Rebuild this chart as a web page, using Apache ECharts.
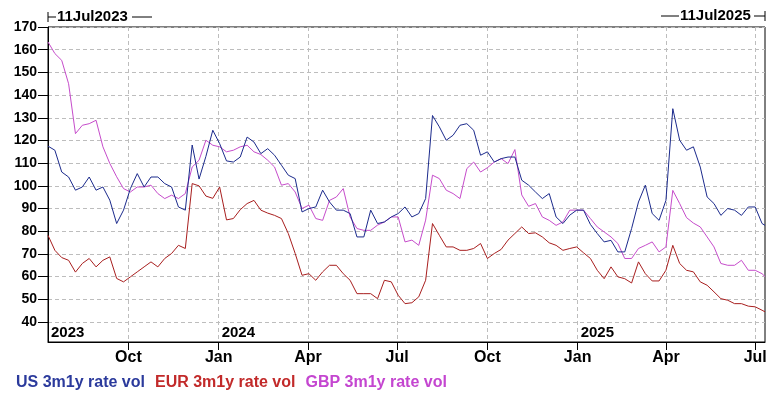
<!DOCTYPE html>
<html>
<head>
<meta charset="utf-8">
<script src="https://cdn.jsdelivr.net/npm/echarts@6/dist/echarts.min.js"></script>
<style>
  html, body { margin: 0; padding: 0; background: #ffffff; }
  #chart { width: 776px; height: 393px; }
</style>
</head>
<body>
<div id="chart"></div>
<script>
// ---- Data (weekly readings) ----
const dates = ['2023-07-11','2023-07-18','2023-07-25','2023-08-01','2023-08-08','2023-08-15','2023-08-22','2023-08-29','2023-09-05','2023-09-12','2023-09-19','2023-09-26','2023-10-03','2023-10-10','2023-10-17','2023-10-24','2023-10-31','2023-11-07','2023-11-14','2023-11-21','2023-11-28','2023-12-05','2023-12-12','2023-12-19','2023-12-26','2024-01-02','2024-01-09','2024-01-16','2024-01-23','2024-01-30','2024-02-06','2024-02-13','2024-02-20','2024-02-27','2024-03-05','2024-03-12','2024-03-19','2024-03-26','2024-04-02','2024-04-09','2024-04-16','2024-04-23','2024-04-30','2024-05-07','2024-05-14','2024-05-21','2024-05-28','2024-06-04','2024-06-11','2024-06-18','2024-06-25','2024-07-02','2024-07-09','2024-07-16','2024-07-23','2024-07-30','2024-08-06','2024-08-13','2024-08-20','2024-08-27','2024-09-03','2024-09-10','2024-09-17','2024-09-24','2024-10-01','2024-10-08','2024-10-15','2024-10-22','2024-10-29','2024-11-05','2024-11-12','2024-11-19','2024-11-26','2024-12-03','2024-12-10','2024-12-17','2024-12-24','2024-12-31','2025-01-07','2025-01-14','2025-01-21','2025-01-28','2025-02-04','2025-02-11','2025-02-18','2025-02-25','2025-03-04','2025-03-11','2025-03-18','2025-03-25','2025-04-01','2025-04-08','2025-04-15','2025-04-22','2025-04-29','2025-05-06','2025-05-13','2025-05-20','2025-05-27','2025-06-03','2025-06-10','2025-06-17','2025-06-24','2025-07-01','2025-07-08','2025-07-11'];

const usVol = [117.5,115.7,106.1,103.9,98.1,99.5,103.9,98.1,99.5,93.7,
  83.4,89.3,98.8,105.4,99.5,103.9,103.9,101,99.5,90.7,
  89.3,118,103,113,124.5,118.6,111,110.5,112.7,121.5,
  119.3,114.2,116.4,113.5,109.1,104.7,103.2,88.5,90,90.7,
  98.1,92.9,89.3,89.3,87.8,77.5,77.5,89.3,83.4,84.1,
  86.3,87.8,90.7,86.3,87.8,94.4,131,126,120.1,122.3,
  126.7,127.4,124.5,113.5,115,110.5,112,112.7,112.7,102.5,
  100.3,97.3,94.4,96.6,86.3,83.4,87.1,89.3,89.3,83,
  79,75.3,76,70.9,70.9,81.2,92.9,100.3,87.8,84.8,
  93.6,134,120.1,115.7,117.2,108.3,95.1,92.2,87,90,
  89.3,87,90.7,90.7,83.4,82.6];

const eurVol = [78.2,71.6,68.4,67.2,62,65.8,68,64.3,67.2,68.7,
  59.2,57.7,59.9,62.1,64.3,66.5,64.3,68,70.2,73.8,
  72.4,101,100,95.5,94.5,99.5,85,85.6,89.5,92.2,
  93.6,89.3,88,87,85.6,79,70.2,60.6,61.3,58.4,
  62.1,65,65,61.3,58.4,52.5,52.5,52.5,50.3,58.4,
  57.7,51.8,48.1,48.5,51.1,58.4,83.4,78.2,73.1,73.1,
  71.6,71.6,72.4,74.6,68,70.2,72,76.1,79,81.9,
  79,79.3,77.5,74.9,73.8,71.6,72.4,73.1,70.5,68,
  62.8,59.1,64.3,59.9,59.1,57.2,66.5,61.3,58.1,58.1,
  62.8,73.8,65.8,62.8,62.1,57.7,56.2,53.3,50.3,49.6,
  48.1,48.1,47,46.7,45.2,44.5];

const gbpVol = [163.4,158.3,155.3,145,123,126.7,127.4,128.9,117.2,109.9,
  104,98.8,97.3,99.5,99.5,100.3,96.6,94.4,95.9,94.4,
  96.6,108.3,111.3,120.1,117.9,117.2,115,115.7,117.2,117.9,
  115,113.8,111.3,108.3,100.3,101,97.3,90,91.5,85.6,
  84.8,93.6,95.1,98.8,86.3,81.2,80.4,80.4,82.7,84.1,
  86.3,86.3,75.3,76.1,73.8,84.9,104.7,103.2,98.1,96.6,
  94.4,107.6,110.5,106.1,108,110.5,112,109.8,116,96,
  91,92.2,86.3,84.8,82.6,84.1,89.3,89.3,89.3,85.6,
  81.9,79.7,77.5,74.6,68,68,72.4,73.8,75.3,70.9,
  73.1,98,92.2,86,83.6,81.9,77.5,73.1,65.8,65,
  65,67.2,62.8,62.8,61.3,60];

const seriesNames = ['US 3m1y rate vol', 'EUR 3m1y rate vol', 'GBP 3m1y rate vol'];
const quarterTicks = ['2023-10-01','2024-01-01','2024-04-01','2024-07-01','2024-10-01','2025-01-01','2025-04-01','2025-07-01'];
const quarterLabels = ['Oct','Jan','Apr','Jul','Oct','Jan','Apr','Jul'];
const yearTicks = ['2023-07-11','2024-01-01','2025-01-01'];
const yearLabels = ['2023','2024','2025'];
const yTicks = [40,50,60,70,80,90,100,110,120,130,140,150,160,170];
const startLabel = '11Jul2023';
const endLabel = '11Jul2025';

// ---- helpers ----
function ts(s) { const p = s.split('-').map(Number); return Date.UTC(p[0], p[1] - 1, p[2]); }
const xMin = ts(dates[0]);
const xMax = ts(dates[dates.length - 1]);
const qTs = quarterTicks.map(ts);
const yTs = yearTicks.map(ts);
function pairs(vals) { return dates.map((d, i) => [ts(d), vals[i]]); }

const FONT = "'Liberation Sans', Arial, sans-serif";
const colors = ['#1b2a8c', '#a81e1e', '#c64ccb'];
const legendColors = ['#2b3a9c', '#c22a2a', '#c446d0'];

const chart = echarts.init(document.getElementById('chart'), null, { renderer: 'canvas' });

const option = {
  animation: false,
  backgroundColor: '#ffffff',
  grid: {
    left: 48, right: 11, top: 27, bottom: 51,
    show: true, borderColor: '#000', borderWidth: 1, backgroundColor: '#fff'
  },
  legend: {
    left: 6, top: 370, icon: 'none', itemWidth: 0, itemHeight: 14, itemGap: 5,
    selectedMode: false,
    textStyle: { fontFamily: FONT, fontSize: 16, fontWeight: 'bold' },
    data: seriesNames.map((n, i) => ({ name: n, textStyle: { color: legendColors[i] } }))
  },
  xAxis: [{
    type: 'value', min: xMin, max: xMax,
    axisLine: { show: true, lineStyle: { color: '#000', width: 1 } },
    axisTick: { show: true, length: 8, lineStyle: { color: '#000' }, customValues: qTs },
    axisLabel: {
      customValues: qTs, margin: 8, color: '#000',
      fontFamily: FONT, fontSize: 16, fontWeight: 'bold',
      formatter: function (v) { const i = qTs.indexOf(v); return i >= 0 ? quarterLabels[i] : ''; }
    },
    splitLine: { show: true, lineStyle: { color: '#bdbdbd', type: [4, 3], width: 1 } }
  }, {
    type: 'value', min: xMin, max: xMax, position: 'bottom', gridIndex: 0,
    axisLine: { show: false }, axisTick: { show: false }, splitLine: { show: false },
    axisLabel: {
      inside: true, customValues: yTs, margin: 2, color: '#000',
      align: 'left', verticalAlign: 'bottom', padding: [0, 0, 0, 3],
      fontFamily: FONT, fontSize: 15, fontWeight: 'bold',
      formatter: function (v) { const i = yTs.indexOf(v); return i >= 0 ? yearLabels[i] : ''; }
    }
  }],
  yAxis: {
    type: 'value', min: 31.2, max: 170,
    axisLine: { show: true, lineStyle: { color: '#000', width: 1 } },
    axisTick: { show: true, length: 10, lineStyle: { color: '#000' }, customValues: yTicks },
    axisLabel: {
      customValues: yTicks, margin: 11, color: '#000',
      fontFamily: FONT, fontSize: 14, fontWeight: 'bold'
    },
    splitLine: { show: true, lineStyle: { color: '#bdbdbd', type: [4, 3], width: 1 } }
  },
  series: [
    { name: seriesNames[2], type: 'line', data: pairs(gbpVol), showSymbol: false, z: 2,
      lineStyle: { color: colors[2], width: 1 }, itemStyle: { color: colors[2] } },
    { name: seriesNames[1], type: 'line', data: pairs(eurVol), showSymbol: false, z: 3,
      lineStyle: { color: colors[1], width: 1 }, itemStyle: { color: colors[1] } },
    { name: seriesNames[0], type: 'line', data: pairs(usVol), showSymbol: false, z: 4,
      lineStyle: { color: colors[0], width: 1 }, itemStyle: { color: colors[0] } }
  ],
  graphic: [
    { type: 'line', shape: { x1: 48, y1: 12, x2: 48, y2: 22 }, style: { stroke: '#000', lineWidth: 1 } },
    { type: 'line', shape: { x1: 48, y1: 17, x2: 56, y2: 17 }, style: { stroke: '#000', lineWidth: 1 } },
    { type: 'text', x: 57, y: 17, style: { text: startLabel, fill: '#000', font: 'bold 15px ' + FONT, verticalAlign: 'middle' } },
    { type: 'line', shape: { x1: 132, y1: 17, x2: 152, y2: 17 }, style: { stroke: '#000', lineWidth: 1 } },
    { type: 'line', shape: { x1: 661, y1: 16, x2: 679, y2: 16 }, style: { stroke: '#000', lineWidth: 1 } },
    { type: 'text', x: 680, y: 16, style: { text: endLabel, fill: '#000', font: 'bold 15px ' + FONT, verticalAlign: 'middle' } },
    { type: 'line', shape: { x1: 754, y1: 16, x2: 765, y2: 16 }, style: { stroke: '#000', lineWidth: 1 } },
    { type: 'line', shape: { x1: 765, y1: 11, x2: 765, y2: 21 }, style: { stroke: '#000', lineWidth: 1 } }
  ]
};

chart.setOption(option);
</script>
</body>
</html>
